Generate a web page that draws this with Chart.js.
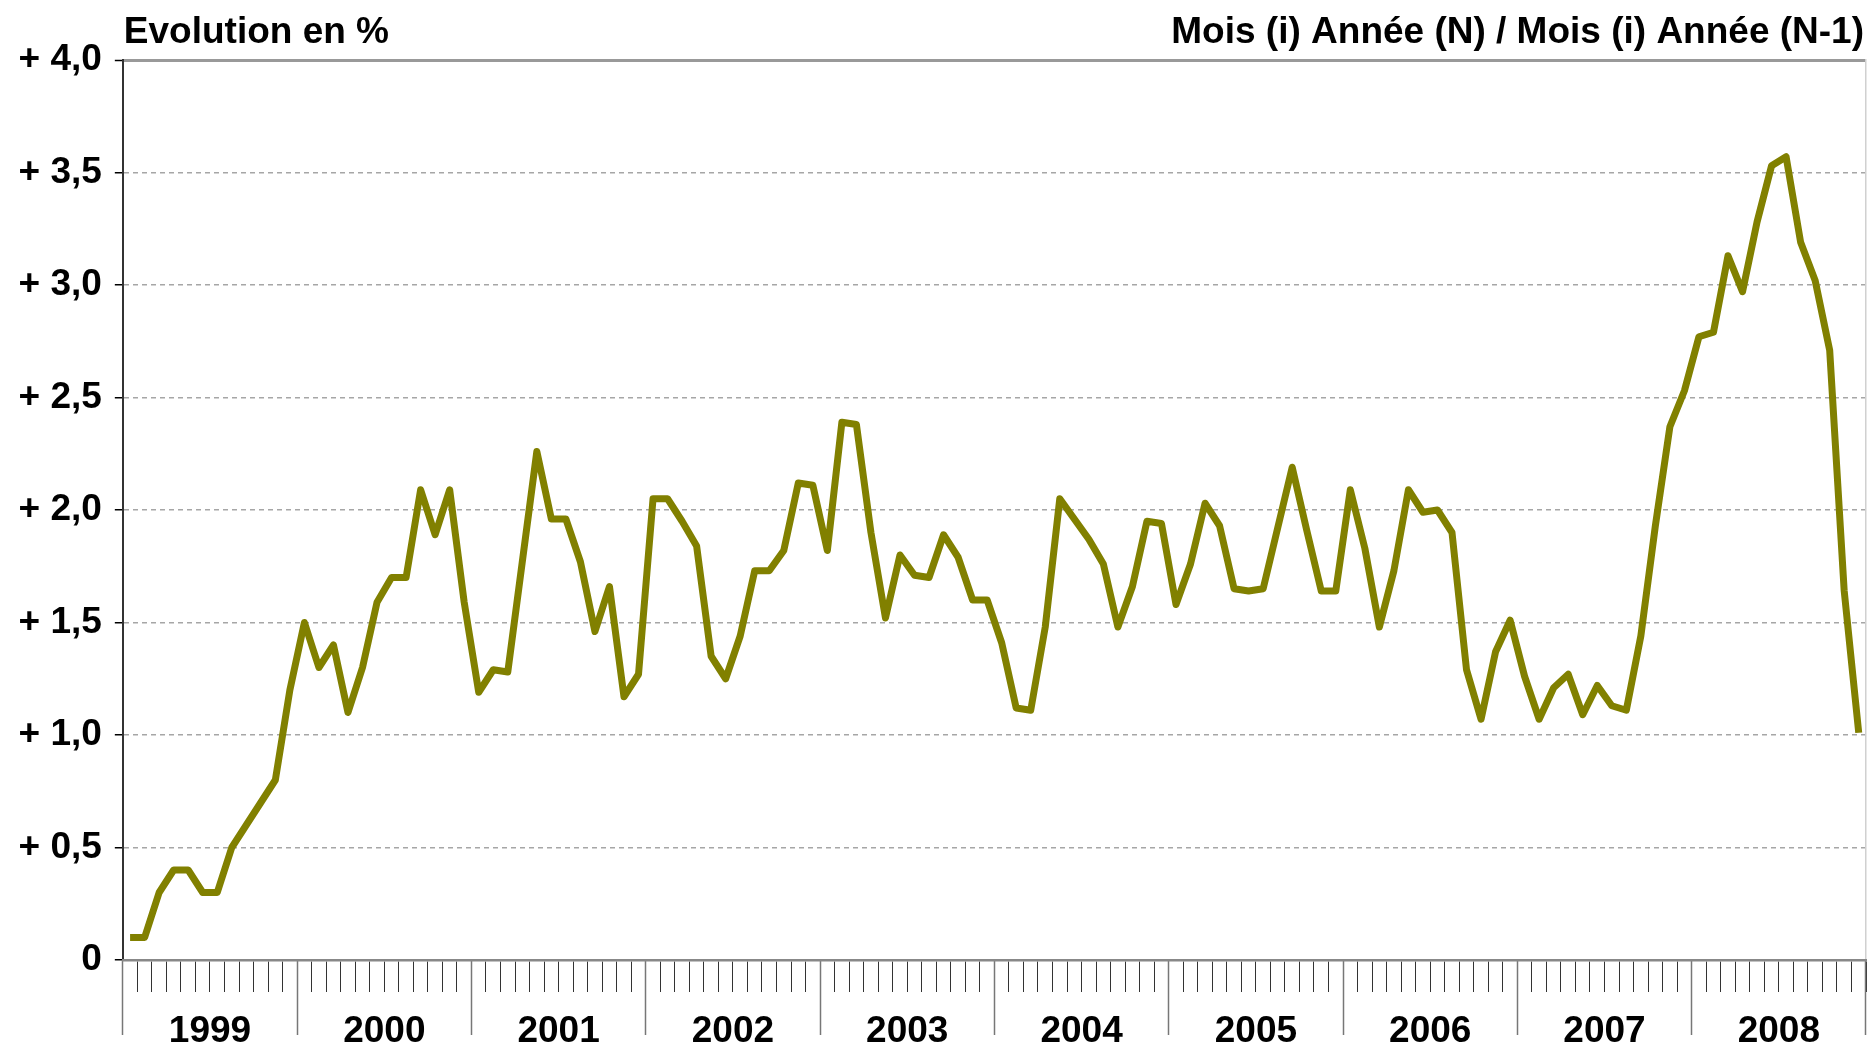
<!DOCTYPE html>
<html>

<head>
    <meta charset="utf-8">
    <title>Evolution en %</title>
    <script src="https://cdn.jsdelivr.net/npm/chart.js"></script>
    <style type="text/css">
        html,
        body {
            margin: 0;
            padding: 0;
            background: #fff;
        }

        .chart-container {
            position: relative;
            width: 1870px;
            height: 1048px;
        }
    </style>
</head>

<body>
    <div class="chart-container">
        <canvas id="myChart"></canvas>
    </div>

    <script>
        const years = ['1999', '2000', '2001', '2002', '2003', '2004', '2005', '2006', '2007', '2008'];
        const monthNames = ['janv.', 'févr.', 'mars', 'avr.', 'mai', 'juin', 'juil.', 'août', 'sept.', 'oct.', 'nov.', 'déc.'];
        // glissement annuel, en %, un point par mois (janv. 1999 -> déc. 2008)
        const values = [
            0.10, 0.10, 0.30, 0.40, 0.40, 0.30, 0.30, 0.50, 0.60, 0.70, 0.80, 1.20,
            1.50, 1.30, 1.40, 1.10, 1.30, 1.59, 1.70, 1.70, 2.09, 1.89, 2.09, 1.59,
            1.19, 1.29, 1.28, 1.77, 2.26, 1.96, 1.96, 1.77, 1.46, 1.66, 1.17, 1.27,
            2.05, 2.05, 1.95, 1.84, 1.35, 1.25, 1.44, 1.73, 1.73, 1.82, 2.12, 2.11,
            1.82, 2.39, 2.38, 1.90, 1.52, 1.80, 1.71, 1.70, 1.89, 1.79, 1.60, 1.60,
            1.41, 1.12, 1.11, 1.48, 2.05, 1.96, 1.87, 1.76, 1.48, 1.66, 1.95, 1.94,
            1.58, 1.76, 2.03, 1.93, 1.65, 1.64, 1.65, 1.92, 2.19, 1.91, 1.64, 1.64,
            2.09, 1.83, 1.48, 1.73, 2.09, 1.99, 2.00, 1.90, 1.29, 1.07, 1.37, 1.51,
            1.26, 1.07, 1.21, 1.27, 1.09, 1.22, 1.13, 1.11, 1.44, 1.93, 2.37, 2.53,
            2.77, 2.79, 3.13, 2.97, 3.28, 3.53, 3.57, 3.19, 3.02, 2.71, 1.64, 1.01
        ];
        const yLabels = ['0', '+ 0,5', '+ 1,0', '+ 1,5', '+ 2,0', '+ 2,5', '+ 3,0', '+ 3,5', '+ 4,0'];
        const leftTitle = 'Evolution en %';
        const rightTitle = 'Mois (i) Année (N) / Mois (i) Année (N-1)';

        const months = [];
        years.forEach(y => monthNames.forEach(m => months.push(m + ' ' + y)));

        const FONT = '"Liberation Sans", Arial, sans-serif';
        Chart.defaults.font.family = FONT;
        Chart.defaults.color = '#000';

        // the two header texts sit above the plot frame
        const headers = {
            id: 'headers',
            afterDraw(chart) {
                const { ctx, chartArea } = chart;
                ctx.save();
                ctx.font = 'bold 37px ' + FONT;
                ctx.fillStyle = '#000';
                ctx.textBaseline = 'alphabetic';
                ctx.textAlign = 'left';
                ctx.fillText(leftTitle, chartArea.left + 1, 43);
                ctx.textAlign = 'right';
                ctx.fillText(rightTitle, chartArea.right - 2, 43);
                ctx.restore();
            }
        };

        var ctx = document.getElementById('myChart').getContext('2d');
        var myChart = new Chart(ctx, {
            type: 'line',
            data: {
                labels: months,
                datasets: [{
                    data: values,
                    borderColor: '#818000',
                    borderWidth: 7,
                    borderJoinStyle: 'round',
                    pointRadius: 0,
                    tension: 0,
                    fill: false,
                    xAxisID: 'x',
                    yAxisID: 'y'
                }]
            },
            options: {
                responsive: true,
                maintainAspectRatio: false,
                animation: false,
                // tick padding counts twice in the axis size, hence these odd values
                layout: { padding: { left: 5.5, right: 4, top: 60, bottom: 56 } },
                plugins: {
                    legend: { display: false },
                    tooltip: { enabled: false }
                },
                scales: {
                    y: {
                        min: 0,
                        max: 4,
                        ticks: {
                            stepSize: 0.5,
                            padding: 13,
                            font: { size: 37, weight: 'bold' },
                            callback: (v, i) => yLabels[i]
                        },
                        grid: {
                            color: c => c.tick && c.tick.value === 4 ? '#999' : '#a6a6a6',
                            lineWidth: c => c.tick && c.tick.value === 4 ? 3 : 1.5,
                            tickLength: 8,
                            tickColor: '#000',
                            tickWidth: 1.5
                        },
                        border: {
                            color: '#333',
                            width: 2,
                            dash: c => c.tick && c.tick.value === 4 ? [] : [5, 4]
                        }
                    },
                    yr: {
                        position: 'right',
                        min: 0,
                        max: 4,
                        ticks: { display: false },
                        grid: { drawOnChartArea: false, drawTicks: false },
                        border: { color: '#d0d0d0', width: 1.5 }
                    },
                    // month ticks
                    x: {
                        offset: true,
                        ticks: { display: false, autoSkip: false },
                        grid: {
                            offset: true,
                            drawOnChartArea: false,
                            tickLength: 32,
                            tickColor: '#333',
                            tickWidth: 1
                        },
                        border: { color: '#888', width: 2.5 }
                    },
                    // year ticks + labels, pinned on y = 0 so it overlays the month axis
                    x2: {
                        type: 'category',
                        labels: years,
                        position: { y: 0 },
                        offset: true,
                        ticks: {
                            padding: -19.5,
                            font: { size: 37, weight: 'bold', lineHeight: 0.9 }
                        },
                        grid: {
                            offset: true,
                            drawOnChartArea: false,
                            tickLength: 75,
                            tickColor: '#777',
                            tickWidth: 1.5
                        },
                        border: { display: false }
                    }
                }
            },
            plugins: [headers]
        });
    </script>
</body>

</html>
